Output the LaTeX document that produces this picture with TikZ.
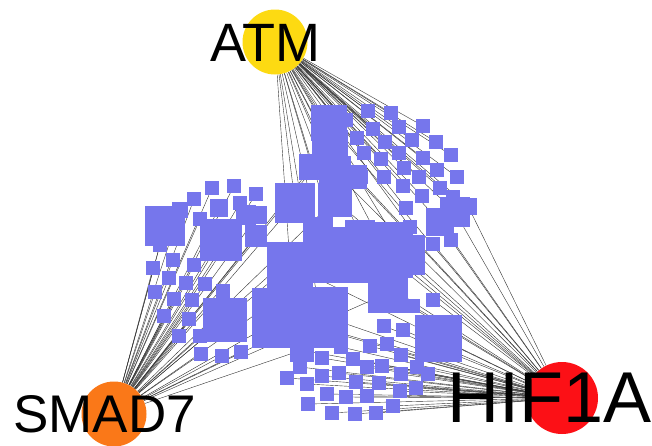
\documentclass[tikz,border=0pt]{standalone}
\usepackage{fontspec}
\setmainfont{Liberation Sans}
\definecolor{genecol}{RGB}{118,118,236}
\definecolor{atmcol}{RGB}{253,218,18}
\definecolor{smadcol}{RGB}{250,120,24}
\definecolor{hifcol}{RGB}{252,16,22}
\pgfdeclarelayer{edges}
\pgfsetlayers{edges,main}

\begin{document}
\begin{tikzpicture}[x=1pt,y=-1pt,
    hub/.style={circle, inner sep=0pt},
    hublabel/.style={inner sep=0pt, anchor=base west},
    gene/.style={rectangle, fill=genecol, inner sep=0pt},
    link/.style={draw=black!80, line width=0.4pt}]
\useasboundingbox (0,0) rectangle (652,445);

% Hubs
\node[hub, fill=atmcol, minimum size=65pt] (atm) at (275,42) {};
\node[hub, fill=smadcol, minimum size=65pt] (smad) at (114,414) {};
\node[hub, fill=hifcol, minimum size=72pt] (hif) at (562,398) {};

% Targets: x/y/size/hubs
\foreach \x/\y/\s/\hubs [count=\i] in {
    295/203/40/{atm,smad}, 329/123/36/{atm,hif}, 330/148/36/{atm,smad,hif},
    312/167/26/{atm,smad}, 335/172/32/{atm,hif}, 355/177/24/{atm,hif},
    335/200/34/{atm,smad,hif}, 318/232/30/{atm,smad}, 360/235/30/{atm,hif},
    290/265/46/{atm,smad,hif}, 340/255/56/{atm,smad,hif}, 385/250/56/{atm,hif},
    405/255/40/{atm,hif}, 388/293/40/{hif,smad}, 282/318/60/{smad,hif},
    320/315/56/{smad,hif,atm}, 330/330/36/hif, 302/350/24/{smad,hif},
    438/338/47/hif,
    455/212/30/{atm,hif}, 440/222/28/{atm,hif}, 468/206/17/{atm,hif},
    433/244/14/hif, 451/240/14/hif,
    165/226/40/smad, 180/210/16/smad, 221/240/42/smad, 256/236/22/smad,
    258/215/18/smad, 246/215/20/smad, 219/208/18/smad, 225/320/44/smad,
    160/245/14/smad,
    194/199/14/smad, 212/188/14/smad, 234/186/14/smad, 256/194/14/smad,
    200/219/14/smad, 240/203/14/smad, 173/260/14/smad, 194/265/14/smad,
    153/268/14/smad, 169/278/14/smad, 186/283/14/smad, 205/284/14/smad,
    155/292/14/smad, 174/299/14/smad, 192/300/14/smad, 164/316/14/smad,
    189/319/14/smad, 179/336/14/smad, 200/336/14/smad, 201/354/14/smad,
    222/356/14/smad, 241/352/14/smad, 223/291/14/smad,
    413/306/14/hif, 433/300/14/hif, 384/326/14/hif, 403/330/14/hif,
    341/347/14/hif, 370/346/14/hif, 387/344/14/hif, 401/355/14/hif,
    322/358/14/hif, 300/367/14/hif, 287/378/14/hif, 307/384/14/hif,
    322/376/14/hif, 339/373/14/hif, 353/359/14/hif, 367/367/14/hif,
    382/366/14/hif, 401/374/14/hif, 417/367/14/hif, 428/374/14/hif,
    356/382/14/hif, 379/383/14/hif, 400/391/14/hif, 416/388/14/hif,
    327/394/14/hif, 346/397/14/hif, 367/396/14/hif, 308/404/14/hif,
    393/406/14/hif, 332/413/14/hif, 355/414/14/hif, 376/413/14/hif,
    368/111/14/atm, 391/113/14/atm, 373/129/14/atm, 399/127/14/atm,
    423/126/14/atm, 346/120/14/atm, 357/138/14/atm, 385/142/14/atm,
    412/140/14/atm, 436/142/14/atm, 364/153/14/atm, 381/159/14/atm,
    399/153/14/atm, 423/158/14/atm, 451/155/14/atm, 361/177/14/atm,
    384/177/14/atm, 404/168/14/atm, 419/177/14/atm, 437/170/14/atm,
    457/177/14/atm, 403/186/14/atm, 422/196/14/atm, 440/188/14/atm,
    453/197/14/atm, 406/208/14/atm, 410/227/14/atm}
{
    \node[gene, minimum size=\s pt] (g\i) at (\x,\y) {};
    \begin{pgfonlayer}{edges}
        \foreach \h in \hubs {\draw[link] (\h) -- (g\i);}
    \end{pgfonlayer}
}

% Labels
\node[hublabel, font=\fontsize{54}{60}\selectfont] (atmtext) at (210,61) {ATM};
\node[hublabel, font=\fontsize{53}{60}\selectfont] (smadtext) at (13,432) {SMAD7};
\node[hublabel, font=\fontsize{72}{80}\selectfont] (hiftext) at (447,422) {HIF1A};
\end{tikzpicture}
\end{document}
